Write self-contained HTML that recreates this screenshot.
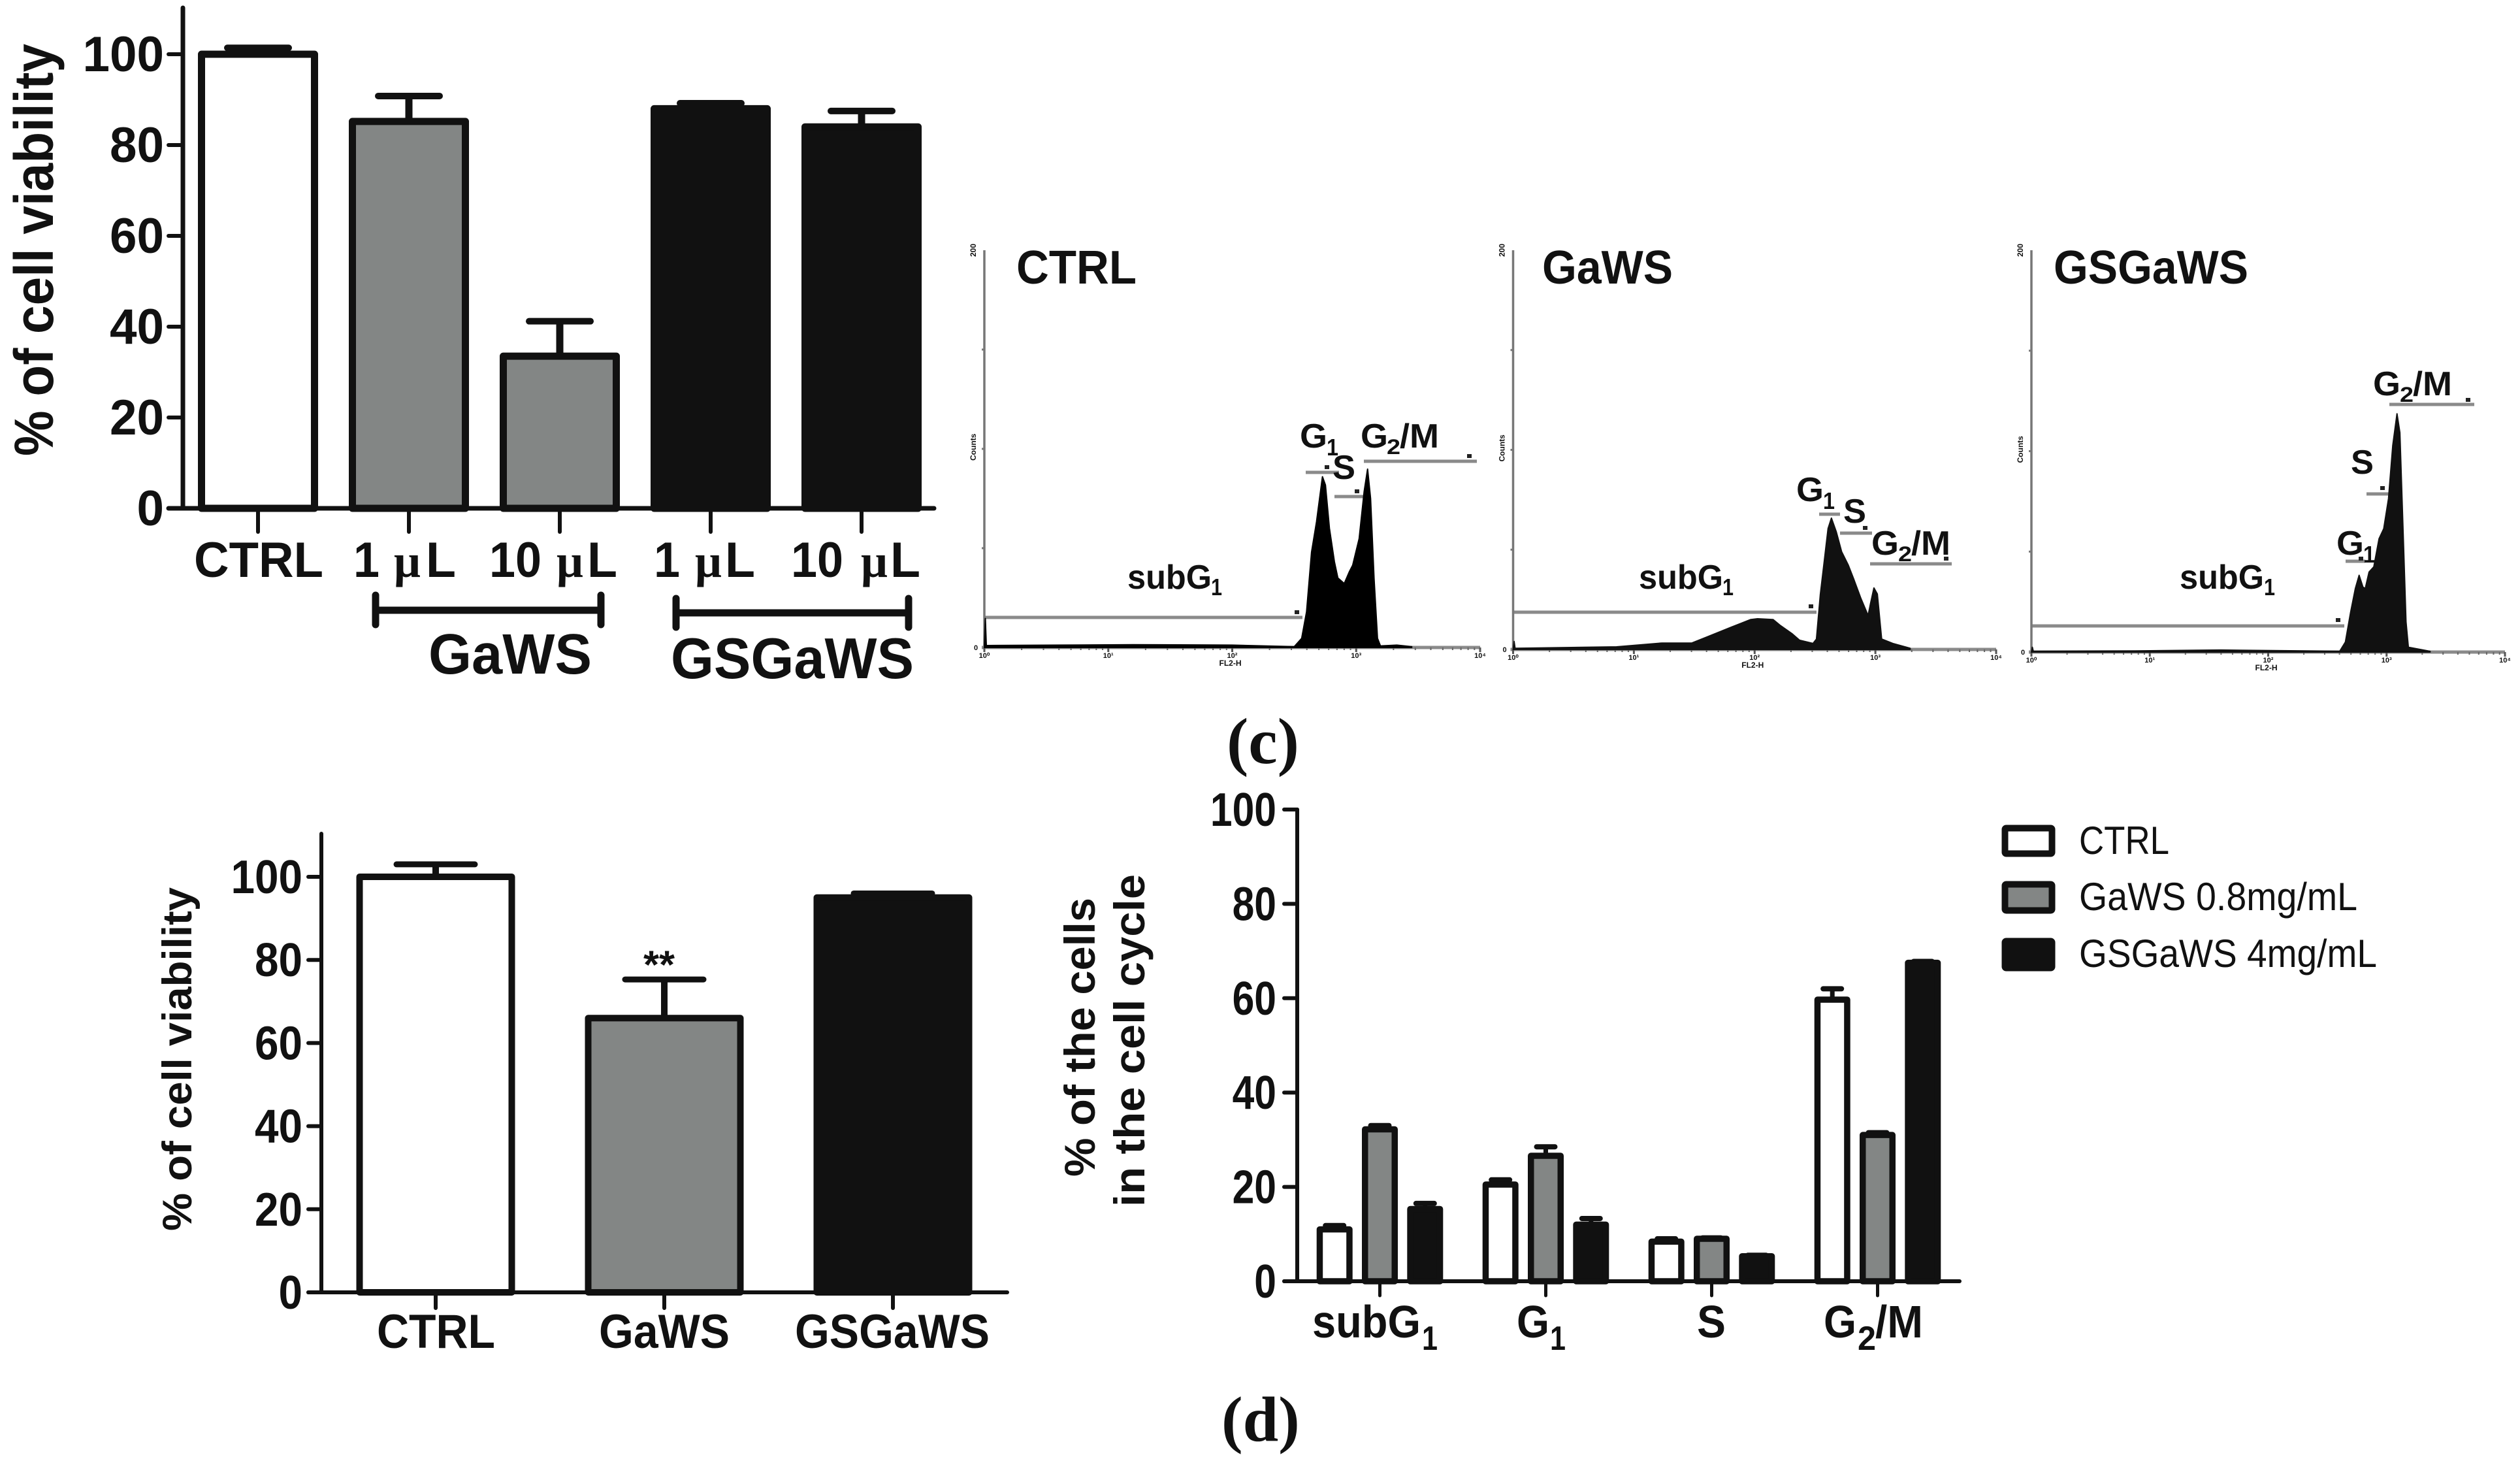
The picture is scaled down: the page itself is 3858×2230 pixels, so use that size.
<!DOCTYPE html>
<html lang="en">
<head>
<meta charset="utf-8">
<title>Cell viability and cell cycle charts</title>
<style>
html,body{margin:0;padding:0;background:#fff;}
svg{display:block;}
text{font-family:"Liberation Sans",sans-serif;fill:#111;font-weight:700;}
.serif{font-family:"Liberation Serif",serif;}
.reg{font-weight:400;}
.gate{stroke:#8a8a8a;stroke-width:5;}
.dot{fill:#222;}
</style>
</head>
<body>
<svg id="figure" xmlns="http://www.w3.org/2000/svg" width="3858" height="2230" viewBox="0 0 3858 2230">
<rect x="0" y="0" width="3858" height="2230" fill="#fff"/>

<!-- top-left chart text -->
<text x="81" y="698" font-size="84" transform="rotate(-90 81 698)" textLength="631" lengthAdjust="spacingAndGlyphs">% of cell viability</text>
<text x="297" y="883" font-size="76" textLength="198" lengthAdjust="spacingAndGlyphs">CTRL</text>
<text y="883" font-size="76"><tspan x="541" textLength="40" lengthAdjust="spacingAndGlyphs">1</tspan><tspan x="603" class="serif" font-size="72">μ</tspan><tspan x="652" textLength="46" lengthAdjust="spacingAndGlyphs">L</tspan></text>
<text y="883" font-size="76"><tspan x="749" textLength="80" lengthAdjust="spacingAndGlyphs">10</tspan><tspan x="852" class="serif" font-size="72">μ</tspan><tspan x="899" textLength="46" lengthAdjust="spacingAndGlyphs">L</tspan></text>
<text y="883" font-size="76"><tspan x="1001" textLength="40" lengthAdjust="spacingAndGlyphs">1</tspan><tspan x="1064" class="serif" font-size="72">μ</tspan><tspan x="1110" textLength="46" lengthAdjust="spacingAndGlyphs">L</tspan></text>
<text y="883" font-size="76"><tspan x="1211" textLength="80" lengthAdjust="spacingAndGlyphs">10</tspan><tspan x="1318" class="serif" font-size="72">μ</tspan><tspan x="1363" textLength="46" lengthAdjust="spacingAndGlyphs">L</tspan></text>
<g stroke="#111" stroke-width="11" stroke-linecap="round" fill="none">
  <line x1="575" y1="934" x2="920" y2="934"/><line x1="575" y1="911" x2="575" y2="956"/><line x1="920" y1="911" x2="920" y2="956"/>
</g>
<g stroke="#111" stroke-width="11" stroke-linecap="round" fill="none">
  <line x1="1035" y1="938" x2="1391" y2="938"/><line x1="1035" y1="916" x2="1035" y2="960"/><line x1="1391" y1="916" x2="1391" y2="960"/>
</g>
<text x="656" y="1031" font-size="87" textLength="250" lengthAdjust="spacingAndGlyphs">GaWS</text>
<text x="1027" y="1038" font-size="88" textLength="372" lengthAdjust="spacingAndGlyphs">GSGaWS</text>

<!-- flow cytometry text and gates -->
<text x="1556" y="434" font-size="72" textLength="184" lengthAdjust="spacingAndGlyphs">CTRL</text>
<text x="2361" y="434" font-size="72" textLength="200" lengthAdjust="spacingAndGlyphs">GaWS</text>
<text x="3144" y="434" font-size="72" textLength="298" lengthAdjust="spacingAndGlyphs">GSGaWS</text>

<g>
  <line class="gate" x1="1507" y1="945" x2="1994" y2="945"/><rect class="dot" x="1982" y="934" width="7" height="6"/>
  <line class="gate" x1="1999" y1="723" x2="2050" y2="723"/><rect class="dot" x="2028" y="712" width="7" height="6"/>
  <line class="gate" x1="2043" y1="760" x2="2087" y2="760"/><rect class="dot" x="2074" y="749" width="7" height="6"/>
  <line class="gate" x1="2088" y1="706" x2="2261" y2="706"/><rect class="dot" x="2246" y="695" width="7" height="6"/>
</g>
<g>
  <line class="gate" x1="2317" y1="937" x2="2781" y2="937"/><rect class="dot" x="2769" y="925" width="7" height="6"/>
  <line class="gate" x1="2785" y1="787" x2="2817" y2="787"/>
  <line class="gate" x1="2817" y1="816" x2="2866" y2="816"/><rect class="dot" x="2852" y="805" width="7" height="6"/>
  <line class="gate" x1="2863" y1="863" x2="2988" y2="863"/><rect class="dot" x="2976" y="852" width="7" height="6"/>
</g>
<g>
  <line class="gate" x1="3110" y1="958" x2="3589" y2="958"/><rect class="dot" x="3576" y="946" width="7" height="6"/>
  <line class="gate" x1="3591" y1="859" x2="3621" y2="859"/><rect class="dot" x="3611" y="852" width="7" height="6"/>
  <line class="gate" x1="3623" y1="756" x2="3657" y2="756"/><rect class="dot" x="3644" y="744" width="7" height="6"/>
  <line class="gate" x1="3658" y1="619" x2="3788" y2="619"/><rect class="dot" x="3775" y="609" width="7" height="6"/>
</g>

<text font-size="52"><tspan x="1726" y="901" textLength="129" lengthAdjust="spacingAndGlyphs">subG</tspan><tspan x="1854" y="911" font-size="36" textLength="17" lengthAdjust="spacingAndGlyphs">1</tspan></text>
<text font-size="52"><tspan x="1990" y="685" textLength="42" lengthAdjust="spacingAndGlyphs">G</tspan><tspan x="2031" y="697" font-size="36" textLength="18" lengthAdjust="spacingAndGlyphs">1</tspan></text>
<text font-size="52" x="2040" y="733" textLength="35" lengthAdjust="spacingAndGlyphs">S</text>
<text font-size="52"><tspan x="2083" y="685" textLength="42" lengthAdjust="spacingAndGlyphs">G</tspan><tspan x="2123" y="695" font-size="32" textLength="21" lengthAdjust="spacingAndGlyphs">2</tspan><tspan x="2143" y="685" textLength="60" lengthAdjust="spacingAndGlyphs">/M</tspan></text>

<text font-size="52"><tspan x="2509" y="901" textLength="129" lengthAdjust="spacingAndGlyphs">subG</tspan><tspan x="2637" y="911" font-size="36" textLength="17" lengthAdjust="spacingAndGlyphs">1</tspan></text>
<text font-size="52"><tspan x="2750" y="767" textLength="42" lengthAdjust="spacingAndGlyphs">G</tspan><tspan x="2791" y="779" font-size="36" textLength="18" lengthAdjust="spacingAndGlyphs">1</tspan></text>
<text font-size="52" x="2822" y="800" textLength="35" lengthAdjust="spacingAndGlyphs">S</text>
<text font-size="52"><tspan x="2865" y="849" textLength="42" lengthAdjust="spacingAndGlyphs">G</tspan><tspan x="2906" y="859" font-size="32" textLength="21" lengthAdjust="spacingAndGlyphs">2</tspan><tspan x="2926" y="849" textLength="60" lengthAdjust="spacingAndGlyphs">/M</tspan></text>

<text font-size="52"><tspan x="3337" y="901" textLength="129" lengthAdjust="spacingAndGlyphs">subG</tspan><tspan x="3466" y="911" font-size="36" textLength="17" lengthAdjust="spacingAndGlyphs">1</tspan></text>
<text font-size="52"><tspan x="3577" y="849" textLength="42" lengthAdjust="spacingAndGlyphs">G</tspan><tspan x="3618" y="861" font-size="36" textLength="18" lengthAdjust="spacingAndGlyphs">1</tspan></text>
<text font-size="52" x="3599" y="725" textLength="35" lengthAdjust="spacingAndGlyphs">S</text>
<text font-size="52"><tspan x="3633" y="605" textLength="42" lengthAdjust="spacingAndGlyphs">G</tspan><tspan x="3674" y="615" font-size="32" textLength="21" lengthAdjust="spacingAndGlyphs">2</tspan><tspan x="3694" y="605" textLength="60" lengthAdjust="spacingAndGlyphs">/M</tspan></text>

<text class="serif" x="1878" y="1168" font-size="100">(c)</text>
<text class="serif" x="1870" y="2205" font-size="98">(d)</text>

<!-- bottom-left chart text -->
<text x="293" y="1884" font-size="63" transform="rotate(-90 293 1884)" textLength="526" lengthAdjust="spacingAndGlyphs">% of cell viability</text>
<text x="577" y="2063" font-size="73" textLength="181" lengthAdjust="spacingAndGlyphs">CTRL</text>
<text x="917" y="2063" font-size="73" textLength="200" lengthAdjust="spacingAndGlyphs">GaWS</text>
<text x="1217" y="2063" font-size="73" textLength="298" lengthAdjust="spacingAndGlyphs">GSGaWS</text>
<text x="985" y="1497" font-size="60" textLength="48" lengthAdjust="spacingAndGlyphs">**</text>

<!-- cell cycle chart text -->
<text x="1676" y="1801" font-size="66" transform="rotate(-90 1676 1801)" textLength="427" lengthAdjust="spacingAndGlyphs">% of the cells</text>
<text x="1752" y="1847" font-size="66" transform="rotate(-90 1752 1847)" textLength="509" lengthAdjust="spacingAndGlyphs">in the cell cycle</text>
<text font-size="70"><tspan x="2009" y="2047" textLength="166" lengthAdjust="spacingAndGlyphs">subG</tspan><tspan x="2177" y="2066" font-size="52" textLength="24" lengthAdjust="spacingAndGlyphs">1</tspan></text>
<text font-size="70"><tspan x="2322" y="2047" textLength="50" lengthAdjust="spacingAndGlyphs">G</tspan><tspan x="2373" y="2066" font-size="52" textLength="24" lengthAdjust="spacingAndGlyphs">1</tspan></text>
<text font-size="70" x="2598" y="2047" textLength="44" lengthAdjust="spacingAndGlyphs">S</text>
<text font-size="70"><tspan x="2792" y="2047" textLength="50" lengthAdjust="spacingAndGlyphs">G</tspan><tspan x="2844" y="2066" font-size="52" textLength="28" lengthAdjust="spacingAndGlyphs">2</tspan><tspan x="2871" y="2047" textLength="73" lengthAdjust="spacingAndGlyphs">/M</tspan></text>

<!-- legend -->
<g>
  <rect x="3069.5" y="1267.5" width="72" height="39" rx="2" fill="#fff" stroke="#111" stroke-width="10"/>
  <text class="reg" x="3183" y="1307" font-size="60" textLength="138" lengthAdjust="spacingAndGlyphs">CTRL</text>
  <rect x="3069.5" y="1353.5" width="72" height="40" rx="2" fill="#838685" stroke="#111" stroke-width="10"/>
  <text class="reg" x="3183" y="1393" font-size="60" textLength="426" lengthAdjust="spacingAndGlyphs">GaWS 0.8mg/mL</text>
  <rect x="3069.5" y="1440.5" width="72" height="41" rx="2" fill="#111" stroke="#111" stroke-width="10"/>
  <text class="reg" x="3183" y="1480" font-size="60" textLength="456" lengthAdjust="spacingAndGlyphs">GSGaWS 4mg/mL</text>
</g>
</svg>

<script>
/* ---------- shared tick data ---------- */
const viabilityTicks = [0, 20, 40, 60, 80, 100];
const cycleTicks = [0, 20, 40, 60, 80, 100];

/* ---------- top-left viability chart ---------- */
const topCategories = ["CTRL", "GaWS 1 uL", "GaWS 10 uL", "GSGaWS 1 uL", "GSGaWS 10 uL"];
const topValues = [100, 85.2, 33.5, 88, 84];
const topErrorTops = [101.4, 90.8, 41.2, 89.2, 87.5];

/* ---------- bottom-left viability chart ---------- */
const bottomCategories = ["CTRL", "GaWS", "GSGaWS"];
const bottomValues = [100, 66, 95];
const bottomErrorTops = [103, 75.3, 96];

/* ---------- cell cycle chart ---------- */
const cycleCategories = ["subG1", "G1", "S", "G2M"];
const cycleSeriesNames = ["CTRL", "GaWS", "GSGaWS"];
const cycleCtrlValues = [11, 20.5, 8.4, 59.7];
const cycleCtrlErrorTops = [11.8, 21.5, 9, 62];
const cycleGawsValues = [32.2, 26.6, 9, 31];
const cycleGawsErrorTops = [33, 28.5, 9.2, 31.5];
const cycleGsValues = [15.3, 12, 5.3, 67.5];
const cycleGsErrorTops = [16.5, 13.3, 5.5, 67.8];

/* ---------- DNA histograms: channel (0-1000) and relative count (0-100) ---------- */
const histCtrlChannels = [0, 2, 4, 150, 300, 500, 625, 640, 650, 660, 670, 682, 688, 696, 706, 713, 726, 736, 743, 756, 766, 773, 779, 786, 793, 799, 832, 862];
const histCtrlCounts = [0, 7.3, 0.5, 0.6, 0.7, 0.6, 0.2, 2.3, 9, 24, 31.6, 43, 40.9, 30, 21.6, 17.5, 16.1, 19, 20.7, 27.4, 39.2, 44.9, 37.5, 17.4, 2.3, 0.4, 0.6, 0.2];
const histGawsChannels = [0, 2, 4, 214, 308, 370, 401, 452, 492, 506, 538, 552, 578, 593, 621, 628, 636, 644, 652, 659, 669, 680, 694, 705, 720, 735, 740, 747, 754, 763, 786, 822];
const histGawsCounts = [0, 2, 0.3, 0.66, 1.6, 1.6, 3.1, 5.6, 7.5, 7.7, 7.5, 6.1, 3.9, 2.3, 1.5, 2.6, 13.7, 21.9, 30.3, 32.9, 29.5, 24.5, 21.1, 17.7, 12.8, 8.5, 11.5, 15.4, 13.9, 2.6, 1.5, 0.3];
const histGsChannels = [0, 2, 4, 220, 400, 651, 663, 674, 684, 692, 700, 705, 713, 723, 734, 744, 754, 763, 772, 778, 785, 791, 796, 842];
const histGsCounts = [0, 1.2, 0.2, 0.3, 0.5, 0.2, 2.5, 9.9, 15.8, 19.1, 16.2, 15.8, 19.9, 21.2, 28.2, 30.7, 38.2, 51.4, 59.3, 54.6, 29.7, 7.5, 1.2, 0.2];
const histXTickLabels = ["10⁰", "10¹", "10²", "10³", "10⁴"];
const histYTickCounts = [25, 50, 75];

const svg = document.getElementById('figure');
const NS = 'http://www.w3.org/2000/svg';
const INK = '#111';
const GREY = '#838685';

function make(tag, attrs, parent) {
  const node = document.createElementNS(NS, tag);
  for (const k in attrs) node.setAttribute(k, attrs[k]);
  parent.appendChild(node);
  return node;
}
function seg(parent, x1, y1, x2, y2, w, color, cap) {
  return make('line', {x1: x1, y1: y1, x2: x2, y2: y2, stroke: color || INK, 'stroke-width': w, 'stroke-linecap': cap || 'round'}, parent);
}
function slug(s) { return s.toLowerCase().replace(/[^a-z0-9]+/g, '-'); }
function fillFor(name) {
  if (name.indexOf('GSGaWS') === 0) return INK;
  if (name.indexOf('GaWS') === 0) return GREY;
  return '#fff';
}

/* Draws y axis + ticks + tick labels, x axis. */
function drawAxes(g, prefix, yScale, ticks, cfg) {
  const yLine = seg(g, cfg.axisX, cfg.axisTop, cfg.axisX, yScale(0), cfg.axisW);
  
  
  const xLine = seg(g, cfg.xStart, yScale(0), cfg.xEnd, yScale(0), cfg.axisW);
  
  
  ticks.forEach(function (t) {
    const tickMark = seg(g, cfg.xStart, yScale(t), cfg.axisX, yScale(t), cfg.tickW);
    
    
    const label = String(t);
    const len = label.length * cfg.digitW;
    const tickText = make('text', {x: cfg.labelRight - len, y: yScale(t) + cfg.labelDy, 'font-size': cfg.labelSize, textLength: len, lengthAdjust: 'spacingAndGlyphs'}, g);
    tickText.textContent = label;
    
    
  });
}

function drawBar(g, name, cx, value, errTop, yScale, geo) {
  const base = yScale(0);
  const stem = seg(g, cx, yScale(value), cx, yScale(errTop), geo.stemW, INK, 'butt');
  
  
  const cap = seg(g, cx - geo.capW / 2, yScale(errTop), cx + geo.capW / 2, yScale(errTop), geo.capH);
  
  
  const inner = geo.barW - geo.stroke;
  const bar = make('rect', {x: cx - inner / 2, y: yScale(value), width: inner, height: base - yScale(value), fill: fillFor(geo.series || name), stroke: INK, 'stroke-width': geo.stroke, 'stroke-linejoin': 'round'}, g);
  
  
}

/* ---- top-left chart ---- */
(function () {
  const g = make('g', {}, svg);
  
  
  const y = function (v) { return 778 - v * 6.95; };
  const x = function (i) { return 395 + i * 231; };
  topCategories.forEach(function (name, i) {
    drawBar(g, name, x(i), topValues[i], topErrorTops[i], y, {barW: 184, stroke: 11, stemW: 11, capW: 94, capH: 10});
    const tick = seg(g, x(i), y(0), x(i), y(0) + 36, 6);
    
    
  });
  drawAxes(g, 'top', y, viabilityTicks, {axisX: 280, axisTop: 12, axisW: 7, xStart: 258, xEnd: 1430, tickW: 6, labelRight: 251, digitW: 41.5, labelSize: 76, labelDy: 26});
})();

/* ---- bottom-left chart ---- */
(function () {
  const g = make('g', {}, svg);
  
  
  const y = function (v) { return 1978 - v * 6.36; };
  const x = function (i) { return 667 + i * 350; };
  bottomCategories.forEach(function (name, i) {
    drawBar(g, name + '-bottom', x(i), bottomValues[i], bottomErrorTops[i], y, {barW: 243, stroke: 10, stemW: 10, capW: 120, capH: 9, series: name});
    const tick = seg(g, x(i), y(0), x(i), y(0) + 24, 6);
    
    
  });
  drawAxes(g, 'bottom', y, viabilityTicks, {axisX: 492, axisTop: 1276, axisW: 6, xStart: 472, xEnd: 1542, tickW: 6, labelRight: 463, digitW: 36.5, labelSize: 72, labelDy: 25});
})();

/* ---- cell cycle chart ---- */
(function () {
  const g = make('g', {}, svg);
  
  
  const y = function (v) { return 1961 - v * 7.22; };
  const groupX = function (c) { return 2112.5 + c * 254; };
  const barX = function (c, s) { return groupX(c) + (s - 1) * 69.3; };
  const valuesBySeries = [cycleCtrlValues, cycleGawsValues, cycleGsValues];
  const errorsBySeries = [cycleCtrlErrorTops, cycleGawsErrorTops, cycleGsErrorTops];
  cycleCategories.forEach(function (cat, c) {
    cycleSeriesNames.forEach(function (series, s) {
      drawBar(g, cat + '-' + series, barX(c, s), valuesBySeries[s][c], errorsBySeries[s][c], y, {barW: 55, stroke: 9.5, stemW: 7, capW: 28, capH: 8, series: series});
    });
    const tick = seg(g, groupX(c), y(0), groupX(c), y(0) + 22, 5);
    
    
  });
  drawAxes(g, 'cycle', y, cycleTicks, {axisX: 1986, axisTop: y(100), axisW: 6, xStart: 1966, xEnd: 3000, tickW: 6, labelRight: 1954, digitW: 33.7, labelSize: 72, labelDy: 25});
})();

/* ---- histograms ---- */
function drawHistogram(prefix, channels, counts, geo) {
  const g = make('g', {}, svg);
  
  
  const x = function (ch) { return geo.left + ch / 1000 * (geo.right - geo.left); };
  const y = function (c) { return geo.base - c / 100 * (geo.base - geo.top); };
  const axisColor = '#777';
  const yAxis = seg(g, geo.left, geo.top, geo.left, geo.base, 3.5, axisColor, 'butt');
  
  
  const xAxis = seg(g, geo.left - 4, geo.base, geo.right, geo.base, 5, '#8a8a8a', 'butt');
  
  

  histYTickCounts.forEach(function (c) {
    const yt = seg(g, geo.left - 4, y(c), geo.left, y(c), 3, axisColor, 'butt');
    
    
  });
  histXTickLabels.forEach(function (lab, d) {
    const ch = d * 250;
    const major = seg(g, x(ch), geo.base, x(ch), geo.base + 7, 3, '#555', 'butt');
    
    
    const tl = make('text', {x: x(ch), y: geo.base + 16, 'font-size': 11, 'text-anchor': 'middle', fill: '#555'}, g);
    tl.textContent = lab;
    
    
    if (d < 4) {
      for (let m = 2; m < 10; m++) {
        const minorCh = (d + Math.log10(m)) * 250;
        const minor = seg(g, x(minorCh), geo.base, x(minorCh), geo.base + 4, 2, '#666', 'butt');
        
        
      }
    }
  });
  const pts = channels.map(function (ch, i) { return x(ch).toFixed(1) + ',' + y(counts[i]).toFixed(1); });
  pts.push(x(channels[channels.length - 1]).toFixed(1) + ',' + y(0).toFixed(1));
  pts.push(x(channels[0]).toFixed(1) + ',' + y(0).toFixed(1));
  const shape = make('polygon', {points: pts.join(' '), fill: geo.fill, stroke: geo.fill, 'stroke-width': 2, 'stroke-linejoin': 'round'}, g);
  
  

  const xt = make('text', {x: geo.left + (geo.right - geo.left) / 2 - 3, y: geo.base + 28, 'font-size': 12, 'text-anchor': 'middle', fill: '#333'}, g);
  xt.textContent = 'FL2-H';
  
  
  const yx = geo.left - 13;
  const yc = (geo.top + geo.base) / 2;
  const yt2 = make('text', {x: yx, y: yc + 18, 'font-size': 12, transform: 'rotate(-90 ' + yx + ' ' + (yc + 18) + ')', fill: '#333'}, g);
  yt2.textContent = 'Counts';
  
  
  const topLabel = make('text', {x: yx, y: geo.top + 10, 'font-size': 12, transform: 'rotate(-90 ' + yx + ' ' + (geo.top + 10) + ')', fill: '#333'}, g);
  topLabel.textContent = '200';
  
  
  const zeroLabel = make('text', {x: geo.left - 16, y: geo.base + 4, 'font-size': 11, fill: '#333'}, g);
  zeroLabel.textContent = '0';
  
  
}
drawHistogram('ctrl', histCtrlChannels, histCtrlCounts, {left: 1507, right: 2266, top: 383, base: 991, fill: '#000'});
drawHistogram('gaws', histGawsChannels, histGawsCounts, {left: 2316.5, right: 3056, top: 383, base: 994, fill: '#111'});
drawHistogram('gsgaws', histGsChannels, histGsCounts, {left: 3110, right: 3835, top: 383, base: 998, fill: '#111'});
</script>
</body>
</html>
